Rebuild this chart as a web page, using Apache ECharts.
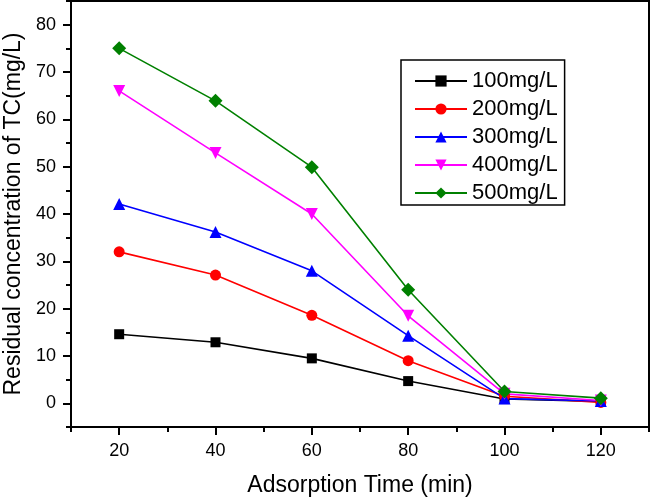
<!DOCTYPE html>
<html>
<head>
<meta charset="utf-8">
<script src="https://cdn.jsdelivr.net/npm/echarts@6/dist/echarts.min.js"></script>
<style>html,body{margin:0;padding:0;background:#fff}#c{width:650px;height:501px}</style>
</head>
<body>
<div id="c"></div>
<script>
const times = [20, 40, 60, 80, 100, 120];
const seriesNames = ['100mg/L', '200mg/L', '300mg/L', '400mg/L', '500mg/L'];
const c100 = [14.6, 12.9, 9.5, 4.7, 0.9, 0.4];
const c200 = [32.0, 27.1, 18.6, 9.0, 1.5, 0.2];
const c300 = [42.1, 36.2, 28.0, 14.3, 1.0, 0.5];
const c400 = [66.0, 52.9, 40.0, 18.5, 2.0, 0.6];
const c500 = [75.0, 63.9, 49.9, 24.0, 2.5, 1.1];
const xMajorTicks = [20, 40, 60, 80, 100, 120];
const xMinorTicks = [10, 30, 50, 70, 90, 110, 130];
const yMajorTicks = [0, 10, 20, 30, 40, 50, 60, 70, 80];
const yMinorTicks = [-5, 5, 15, 25, 35, 45, 55, 65, 75, 85];

const colors = ['#000000', '#ff0000', '#0000ff', '#ff00ff', '#008000'];
const diamond = 'path://M0,1 L-1,0 L0,-1 L1,0 Z';
const symbols = ['rect', 'circle', 'triangle', 'triangle', diamond];
const symbolRot = [0, 0, 0, 180, 0];
const symbolSizes = [10, 11, 12, 12, 14];
const values = [c100, c200, c300, c400, c500];
const font = 'Liberation Sans, Arial, sans-serif';

const chart = echarts.init(document.getElementById('c'), null, {renderer: 'canvas'});

const series = values.map((v, i) => ({
  name: seriesNames[i],
  type: 'line',
  xAxisIndex: 0,
  yAxisIndex: 0,
  data: v.map((y, j) => [times[j], y]),
  symbol: symbols[i],
  symbolRotate: symbolRot[i],
  symbolSize: symbolSizes[i],
  showAllSymbol: true,
  color: colors[i],
  lineStyle: {color: colors[i], width: 1.6},
  itemStyle: {color: colors[i]},
  animation: false
}));

const xBase = {
  type: 'value', gridIndex: 0, min: 10, max: 130, position: 'bottom',
  splitLine: {show: false}
};
const yBase = {
  type: 'value', gridIndex: 0, min: -5, max: 85, position: 'left',
  splitLine: {show: false}
};

chart.setOption({
  backgroundColor: '#ffffff',
  animation: false,
  grid: {
    left: 71, right: 1, top: 1, bottom: 74,
    show: true, borderColor: '#000', borderWidth: 2,
    outerBoundsMode: 'none'
  },
  legend: {
    left: 401, top: 60,
    orient: 'vertical',
    data: seriesNames,
    padding: [10, 7, 1, 13],
    itemWidth: 52, itemHeight: 14, itemGap: 6,
    borderColor: '#000', borderWidth: 1.5,
    backgroundColor: '#fff',
    textStyle: {fontFamily: font, fontSize: 22, color: '#000', lineHeight: 22}
  },
  xAxis: [
    Object.assign({}, xBase, {
      name: 'Adsorption Time (min)',
      nameLocation: 'middle', nameGap: 47,
      nameTextStyle: {fontFamily: font, fontSize: 23, color: '#000'},
      axisLine: {show: true, onZero: false, lineStyle: {color: '#000', width: 2}},
      axisTick: {show: true, length: 8, customValues: xMajorTicks, lineStyle: {color: '#000', width: 2}},
      axisLabel: {show: true, customValues: xMajorTicks, margin: 15, fontFamily: font, fontSize: 18, color: '#000'}
    }),
    Object.assign({}, xBase, {
      axisLine: {show: false, onZero: false},
      axisTick: {show: true, length: 5, customValues: xMinorTicks, lineStyle: {color: '#000', width: 2}},
      axisLabel: {show: false}
    })
  ],
  yAxis: [
    Object.assign({}, yBase, {
      name: 'Residual concentration of TC(mg/L)',
      nameLocation: 'middle', nameGap: 46,
      nameTextStyle: {fontFamily: font, fontSize: 23, color: '#000'},
      axisLine: {show: true, onZero: false, lineStyle: {color: '#000', width: 2}},
      axisTick: {show: true, length: 8, customValues: yMajorTicks, lineStyle: {color: '#000', width: 2}},
      axisLabel: {show: true, customValues: yMajorTicks, margin: 15, fontFamily: font, fontSize: 18, color: '#000'}
    }),
    Object.assign({}, yBase, {
      axisLine: {show: false, onZero: false},
      axisTick: {show: true, length: 5, customValues: yMinorTicks, lineStyle: {color: '#000', width: 2}},
      axisLabel: {show: false}
    })
  ],
  series: series
});
</script>
</body>
</html>
